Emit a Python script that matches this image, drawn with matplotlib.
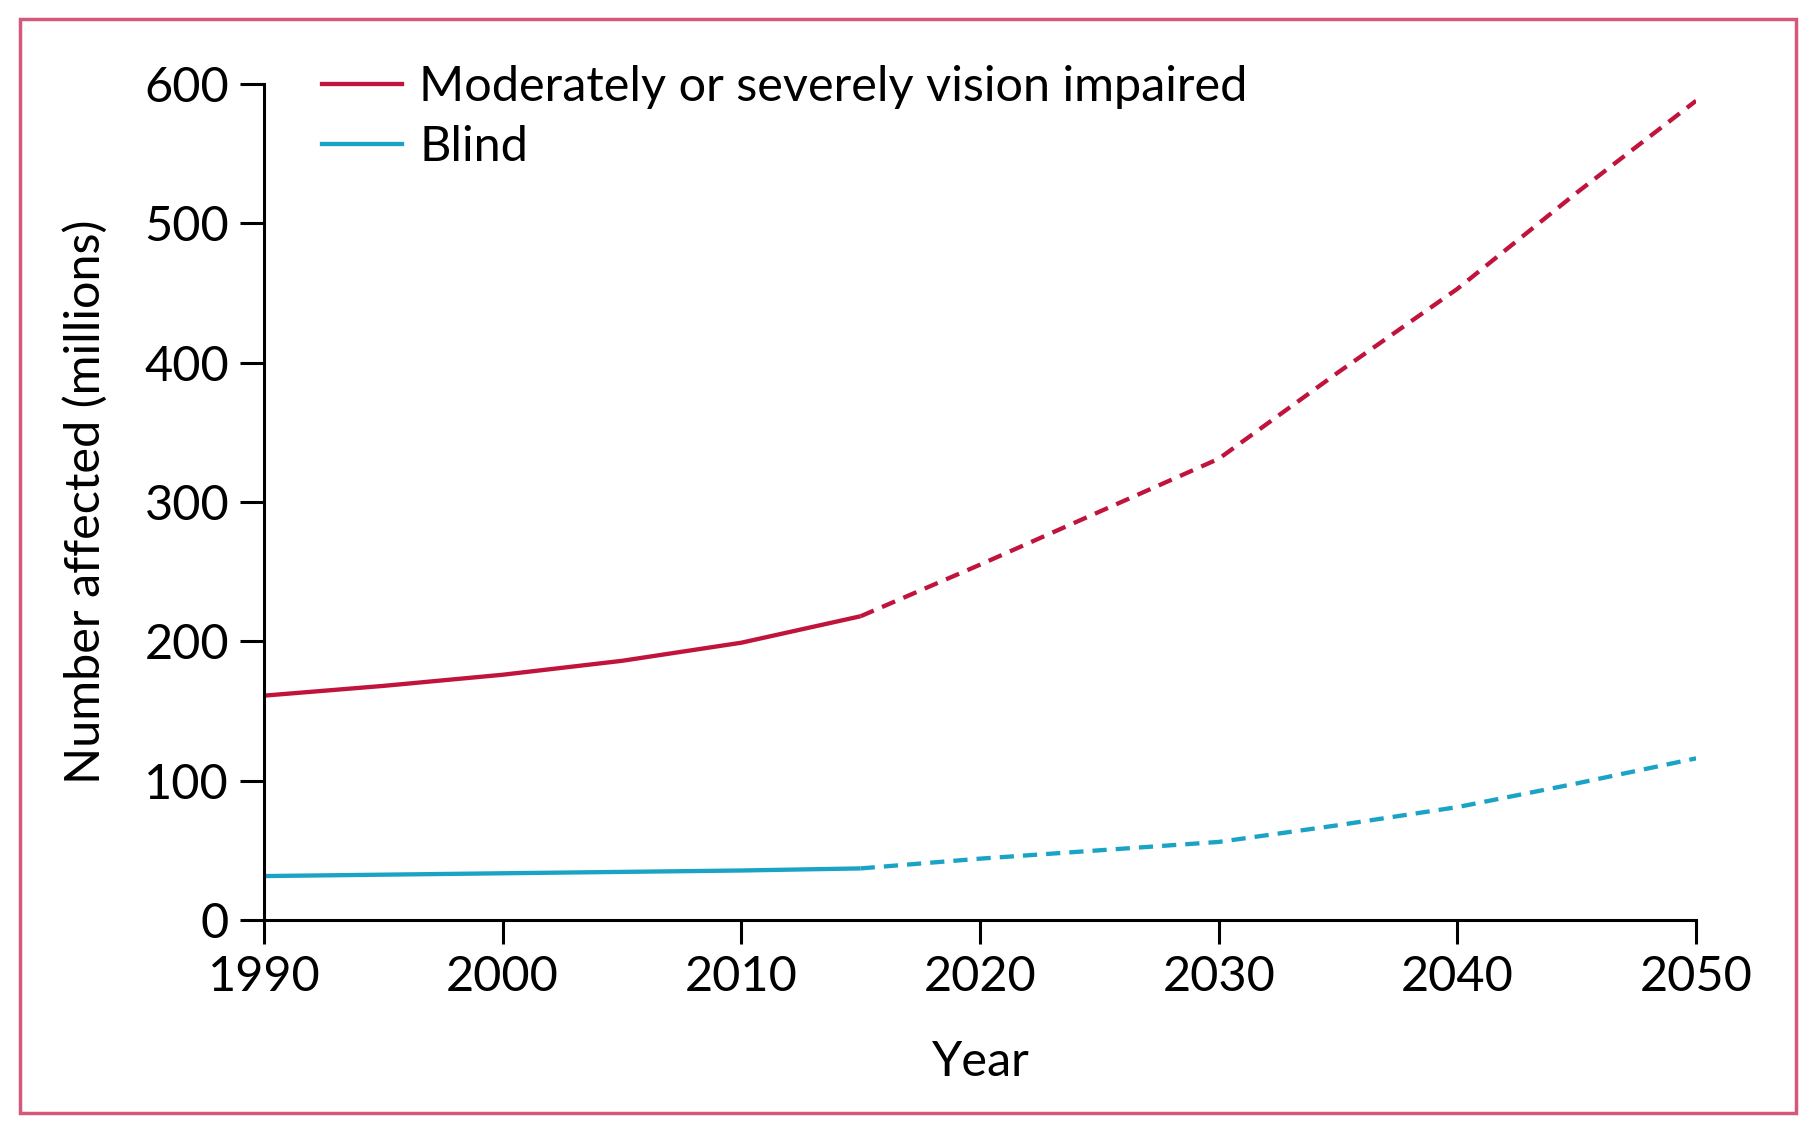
import matplotlib.pyplot as plt
from matplotlib.lines import Line2D
from matplotlib.patches import Rectangle

plt.rcParams['font.family'] = ['Lato', 'DejaVu Sans']

# observed estimates (solid) and projections (dashed)
years_obs = [1990, 1995, 2000, 2005, 2010, 2015]
years_proj = [2015, 2020, 2025, 2030, 2035, 2040, 2045, 2050]
msvi_obs = [161, 168, 176, 186, 199, 218]
msvi_proj = [218, 255, 293, 331, 393, 453, 522, 588]
blind_obs = [31.5, 32.5, 33.5, 34.5, 35.5, 37]
blind_proj = [37, 44, 50, 56, 68, 81, 98, 116]

xticks = [1990, 2000, 2010, 2020, 2030, 2040, 2050]
yticks = [0, 100, 200, 300, 400, 500, 600]

red = '#c0143c'
blue = '#1ba3c6'

fig = plt.figure(figsize=(18.14, 11.31), dpi=100)
ax = fig.add_axes([0.1455, 0.1866, 0.7895, 0.7391])

ax.plot(years_obs, msvi_obs, color=red, lw=3.1, solid_capstyle='butt')
ax.plot(years_proj, msvi_proj, color=red, lw=3.1, dashes=(3.3, 2.1))
ax.plot(years_obs, blind_obs, color=blue, lw=3.1, solid_capstyle='butt')
ax.plot(years_proj, blind_proj, color=blue, lw=3.1, dashes=(3.3, 2.1))

ax.set_xlim(1990, 2050)
ax.set_ylim(0, 600)
ax.set_xticks(xticks)
ax.set_yticks(yticks)
for s in ['top', 'right']:
    ax.spines[s].set_visible(False)
for s in ['left', 'bottom']:
    ax.spines[s].set_linewidth(2.2)
ax.tick_params(axis='both', width=2.2, length=17, labelsize=35, pad=8)
ax.set_xlabel('Year', fontsize=35, labelpad=30)
ax.set_ylabel('Number affected (millions)', fontsize=35, labelpad=26)
ax.margins(0)
for sp in ax.spines.values():
    sp.set_clip_on(False)

handles = [Line2D([], [], color=red, lw=3.1),
           Line2D([], [], color=blue, lw=3.1)]
ax.legend(handles, ['Moderately or severely vision impaired', 'Blind'],
          loc='upper left', bbox_to_anchor=(0.01, 1.075), frameon=False,
          fontsize=35, handlelength=1.65, handletextpad=0.35, labelspacing=0.33)

fig.patches.append(Rectangle((0.011, 0.016), 0.979, 0.967, transform=fig.transFigure,
                             fill=False, edgecolor='#d4587a', lw=2.5))

fig.savefig('out.png', dpi=100)
